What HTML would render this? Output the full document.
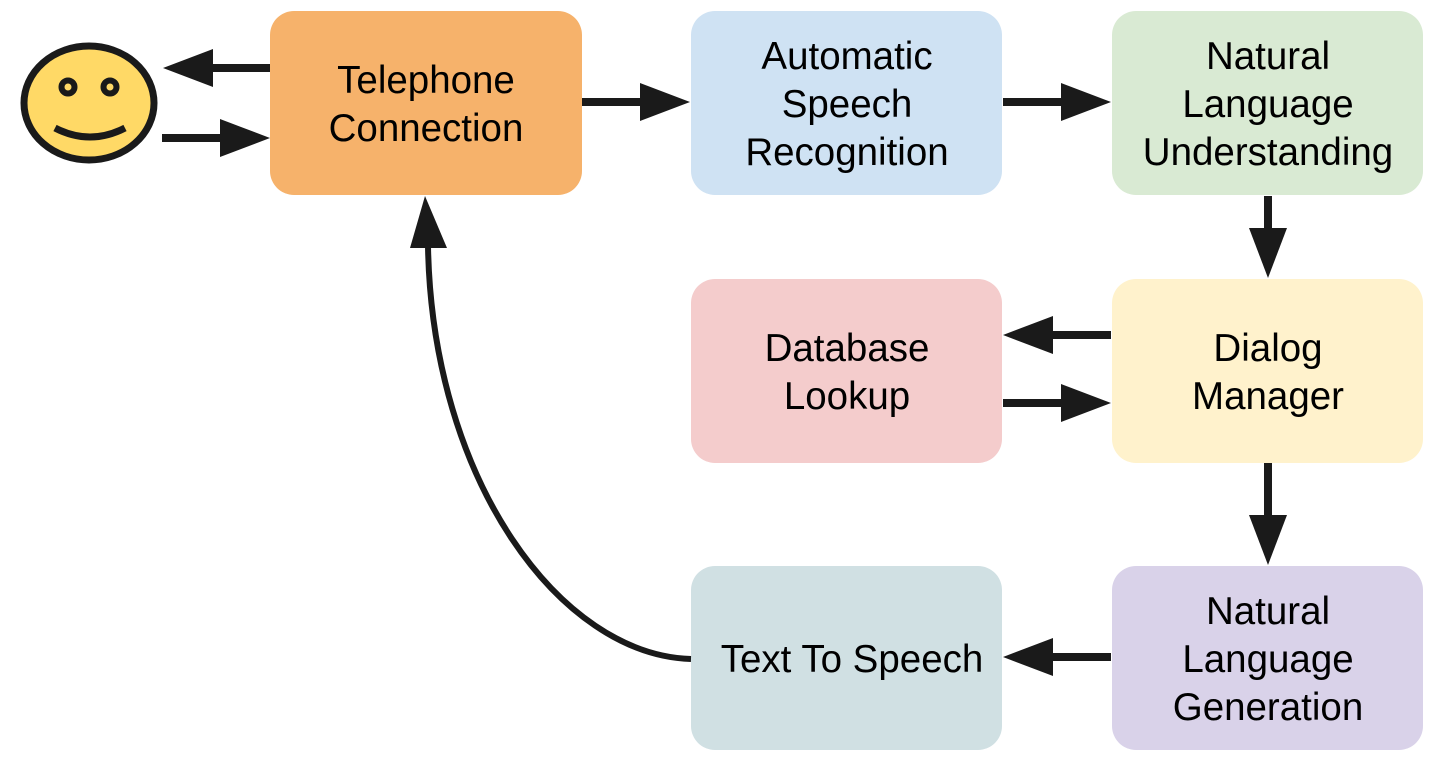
<!DOCTYPE html>
<html><head><meta charset="utf-8"><style>
html,body{margin:0;padding:0;background:#fff;}
svg{display:block;}
text{font-family:"Liberation Sans",Arial,sans-serif;font-size:38.5px;fill:#000;text-anchor:middle;}
</style></head><body>
<svg width="1444" height="763" viewBox="0 0 1444 763" xmlns="http://www.w3.org/2000/svg">
<!-- boxes -->
<rect x="270" y="11" width="312" height="184" rx="24" fill="#f6b26b"/>
<rect x="691" y="11" width="311" height="184" rx="24" fill="#cfe2f3"/>
<rect x="1112" y="11" width="311" height="184" rx="24" fill="#d9ead3"/>
<rect x="691" y="279" width="311" height="184" rx="24" fill="#f4cccc"/>
<rect x="1112" y="279" width="311" height="184" rx="24" fill="#fff2cc"/>
<rect x="691" y="566" width="311" height="184" rx="24" fill="#d0e0e3"/>
<rect x="1112" y="566" width="311" height="184" rx="24" fill="#d9d2e9"/>
<!-- labels -->
<text x="426" y="93">Telephone</text>
<text x="426" y="141">Connection</text>
<text x="847" y="69">Automatic</text>
<text x="847" y="117">Speech</text>
<text x="847" y="165">Recognition</text>
<text x="1268" y="69">Natural</text>
<text x="1268" y="117">Language</text>
<text x="1268" y="165">Understanding</text>
<text x="847" y="361">Database</text>
<text x="847" y="409">Lookup</text>
<text x="1268" y="361">Dialog</text>
<text x="1268" y="409">Manager</text>
<text x="852" y="672">Text To Speech</text>
<text x="1268" y="624">Natural</text>
<text x="1268" y="672">Language</text>
<text x="1268" y="720">Generation</text>
<!-- smiley -->
<ellipse cx="89" cy="103" rx="65" ry="57" fill="#ffd966" stroke="#1a1a1a" stroke-width="7"/>
<circle cx="68" cy="87" r="6.5" fill="#ffd966" stroke="#1a1a1a" stroke-width="6"/>
<circle cx="110" cy="87" r="6.5" fill="#ffd966" stroke="#1a1a1a" stroke-width="6"/>
<path d="M55,128 Q90,146 125,128" fill="none" stroke="#1a1a1a" stroke-width="7"/>
<!-- arrow shafts -->
<g stroke="#1a1a1a" stroke-width="8" fill="none">
<line x1="270" y1="68" x2="210" y2="68"/>
<line x1="162" y1="138" x2="222" y2="138"/>
<line x1="582" y1="102" x2="642" y2="102"/>
<line x1="1003" y1="102" x2="1063" y2="102"/>
<line x1="1268" y1="196" x2="1268" y2="230"/>
<line x1="1111" y1="335" x2="1050" y2="335"/>
<line x1="1003" y1="403" x2="1063" y2="403"/>
<line x1="1268" y1="463" x2="1268" y2="517"/>
<line x1="1111" y1="657" x2="1050" y2="657"/>
</g>
<!-- arrowheads -->
<g fill="#1a1a1a">
<path d="M163,68 L213,49 L213,87 Z"/>
<path d="M270,138 L220,119 L220,157 Z"/>
<path d="M690,102 L640,83 L640,121 Z"/>
<path d="M1111,102 L1061,83 L1061,121 Z"/>
<path d="M1268,278 L1249,228 L1287,228 Z"/>
<path d="M1003,335 L1053,316 L1053,354 Z"/>
<path d="M1111,403 L1061,384 L1061,422 Z"/>
<path d="M1268,565 L1249,515 L1287,515 Z"/>
<path d="M1003,657 L1053,638 L1053,676 Z"/>
</g>
<path d="M691,659 C560,655 432,480 428,246" fill="none" stroke="#1a1a1a" stroke-width="6"/>
<path d="M425,196 L447,248 L410,248 Z" fill="#1a1a1a"/>
</svg>
</body></html>
